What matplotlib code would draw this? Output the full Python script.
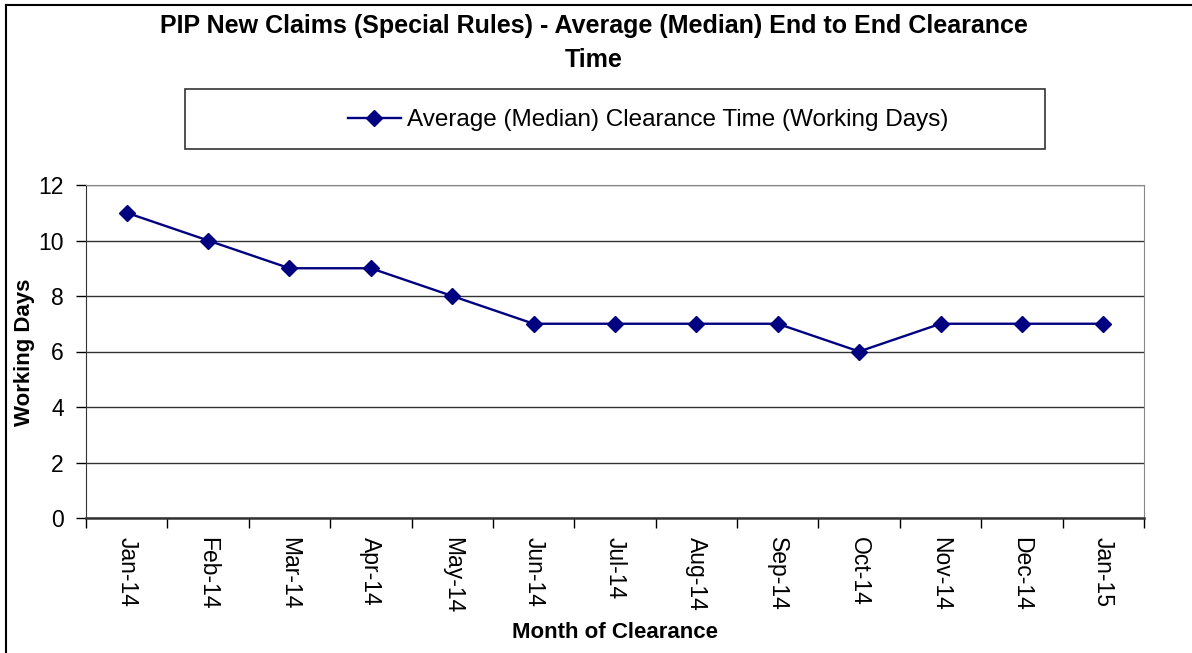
import numpy as np
import matplotlib.pyplot as plt
from matplotlib.lines import Line2D

# --- data -------------------------------------------------------------
months = ["Jan-14", "Feb-14", "Mar-14", "Apr-14", "May-14", "Jun-14", "Jul-14",
          "Aug-14", "Sep-14", "Oct-14", "Nov-14", "Dec-14", "Jan-15"]
clearance_days = [11, 10, 9, 9, 8, 7, 7, 7, 7, 6, 7, 7, 7]

yticks = [0, 2, 4, 6, 8, 10, 12]
navy = "#000080"

plt.rcParams['font.family'] = ['Liberation Sans', 'DejaVu Sans']

W, H = 1192, 653
fig = plt.figure(figsize=(W / 100, H / 100), dpi=100)

# outer chart border (only top and left visible in the reference)
fig.add_artist(Line2D([6 / W, 1], [1 - 5 / H, 1 - 5 / H], transform=fig.transFigure,
                      color="black", lw=1.5))
fig.add_artist(Line2D([6 / W, 6 / W], [0, 1 - 5 / H], transform=fig.transFigure,
                      color="black", lw=1.5))

# plot area in pixels: x 86..1144, y 185..518
ax = fig.add_axes([86 / W, 1 - 518 / H, 1058 / W, 333 / H])

x = np.arange(len(months))
line, = ax.plot(x, clearance_days, color=navy, lw=1.7, marker="D", markersize=8.5,
                markerfacecolor=navy, markeredgecolor=navy)

ax.set_xlim(-0.5, len(months) - 0.5)
ax.set_ylim(0, 12)
ax.set_yticks(yticks)
ax.set_yticklabels([str(v) for v in yticks], fontsize=16.5)

# Excel style: ticks between categories, labels centred
ax.set_xticks(np.arange(-0.5, len(months), 1.0))
ax.set_xticklabels([])
ax.set_xticks(x, minor=True)
ax.set_xticklabels(months, minor=True, rotation=270, fontsize=16.5)
ax.tick_params(axis="x", which="minor", length=0, pad=13.5)
ax.tick_params(axis="x", which="major", length=7, width=1, direction="out")
ax.tick_params(axis="y", length=7, width=1, direction="out", pad=9)

ax.yaxis.grid(True, color="#333333", lw=1)
ax.set_axisbelow(True)
for s in ["top", "right"]:
    ax.spines[s].set_color("#888888")
ax.spines["left"].set_color("#333333")
ax.spines["bottom"].set_color("#333333")
ax.spines["bottom"].set_linewidth(1.8)

# axis titles placed at their reference positions
fig.text(25 / W, 1 - 352 / H, "Working Days", rotation=90, ha="center", va="center",
         fontsize=16, fontweight="bold")
fig.text(615 / W, 1 - 632 / H, "Month of Clearance", ha="center", va="center",
         fontsize=16, fontweight="bold")

fig.text(594 / W, 1 - 26 / H,
         "PIP New Claims (Special Rules) - Average (Median) End to End Clearance",
         ha="center", va="center", fontsize=18, fontweight="bold")
fig.text(594 / W, 1 - 60 / H, "Time", ha="center", va="center",
         fontsize=18, fontweight="bold")

# legend box
fig.add_artist(plt.Rectangle((185 / W, 1 - 149 / H), 860 / W, 60 / H,
                             transform=fig.transFigure, fill=False,
                             edgecolor="#333333", lw=1.2))
fig.legend([line], ["Average (Median) Clearance Time (Working Days)"],
           loc="center", bbox_to_anchor=(648 / W, 1 - 120 / H),
           frameon=False, fontsize=17.5, handlelength=2.2, handletextpad=0.25)

fig.savefig("out.png", dpi=100)
